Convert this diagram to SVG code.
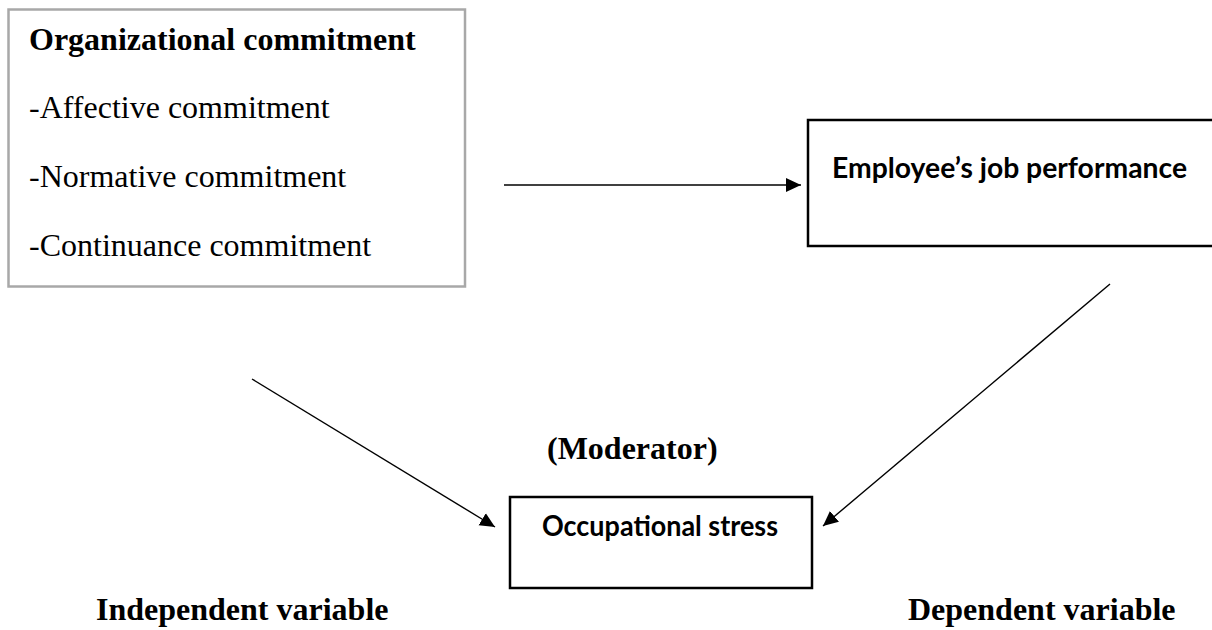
<svg xmlns="http://www.w3.org/2000/svg" width="1212" height="630" viewBox="0 0 1212 630">
  <style>
    .serif { font-family: "Liberation Serif", "Times New Roman", serif; font-size: 32px; fill: #000; }
    .bold { font-weight: bold; }
    .sans { font-family: Lato, "Open Sans", "Liberation Sans", sans-serif; font-size: 28px; font-weight: bold; fill: #000; }
    .box { fill: #fff; stroke: #000; stroke-width: 2.5; }
    .graybox { fill: #fff; stroke: #a8a8a8; stroke-width: 2.5; }
    .conn { stroke: #000; stroke-width: 1.4; fill: none; }
  </style>
  <defs>
    <marker id="arrow" markerUnits="userSpaceOnUse" markerWidth="16" markerHeight="16" viewBox="0 0 16 16" refX="15" refY="8" orient="auto">
      <path d="M0,1 L15,8 L0,15 Z" fill="#000"/>
    </marker>
  </defs>
  <rect width="1212" height="630" fill="#fff"/>

  <g id="org-commitment">
    <rect class="graybox" x="8.5" y="9.5" width="456.5" height="277"/>
    <text class="serif bold" x="29" y="50">Organizational commitment</text>
    <text class="serif" x="29" y="118">-Affective commitment</text>
    <text class="serif" x="29" y="187">-Normative commitment</text>
    <text class="serif" x="29" y="256">-Continuance commitment</text>
  </g>

  <g id="job-performance">
    <rect class="box" x="808" y="120" width="420" height="126"/>
    <text class="sans" x="832" y="178" textLength="355" lengthAdjust="spacingAndGlyphs">Employee’s job performance</text>
  </g>

  <g id="occupational-stress">
    <rect class="box" x="510" y="497" width="302" height="91"/>
    <text class="sans" x="542" y="536" textLength="236" lengthAdjust="spacingAndGlyphs">Occupational stress</text>
  </g>

  <g id="labels">
    <text class="serif bold" x="547" y="459">(Moderator)</text>
    <text class="serif bold" x="96" y="620">Independent variable</text>
    <text class="serif bold" x="908" y="620">Dependent variable</text>
  </g>

  <g id="connectors">
    <line class="conn" x1="504" y1="185" x2="801" y2="185" marker-end="url(#arrow)"/>
    <line class="conn" x1="1110" y1="284" x2="823" y2="526" marker-end="url(#arrow)"/>
    <line class="conn" x1="252" y1="379" x2="495" y2="527" marker-end="url(#arrow)"/>
  </g>
</svg>
